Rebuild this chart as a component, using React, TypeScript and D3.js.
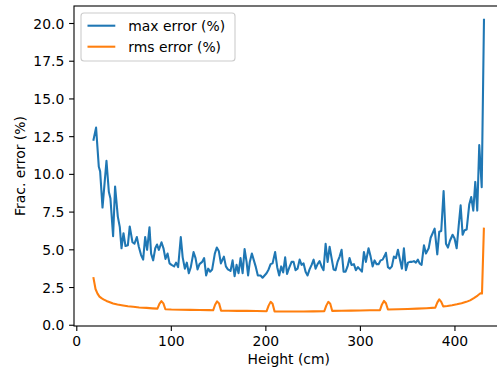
import { useEffect, useRef } from 'react'
import * as d3 from 'd3'

// max error (%)
const MAX_H = [
  17.7, 20.4, 23.3, 24.7, 27.2, 31.4, 33.9, 35.6, 38.4, 40.5, 43.4, 45.5, 47.3, 49.4, 51.5, 54.0, 56.0, 58.9, 61.0, 63.5,
  65.6, 68.0, 70.2, 72.3, 74.4, 76.9, 78.6, 80.8, 83.0, 84.9, 86.8, 89.6, 91.7, 93.8, 96.0, 98.1, 100.2, 103.0, 105.0, 107.2,
  110.0, 112.0, 114.3, 116.4, 118.5, 120.6, 123.5, 125.6, 127.7, 129.8, 132.6, 134.7, 136.8, 139.0, 141.0, 143.2, 146.0, 148.1, 150.3, 152.4,
  155.6, 157.7, 159.8, 162.6, 164.8, 166.9, 169.0, 171.1, 173.2, 175.4, 177.5, 179.6, 181.2, 183.0, 185.2, 187.3, 189.4, 191.5, 194.4, 196.5,
  198.6, 200.7, 202.9, 205.0, 207.1, 209.8, 212.0, 214.1, 216.2, 218.3, 220.4, 222.4, 224.3, 227.2, 229.3, 231.4, 233.5, 235.7, 237.8, 239.9,
  242.0, 244.1, 246.2, 248.4, 250.5, 252.6, 254.7, 256.8, 258.9, 261.0, 263.2, 265.3, 267.4, 269.5, 271.6, 273.7, 275.8, 278.0, 280.1, 282.2,
  284.3, 286.4, 288.5, 290.6, 293.1, 295.2, 297.4, 299.5, 301.6, 303.7, 305.8, 308.6, 310.8, 312.9, 315.0, 317.1, 319.2, 321.4, 323.5, 325.6,
  327.0, 329.1, 331.2, 333.3, 335.4, 337.6, 339.7, 341.8, 343.9, 346.0, 348.1, 350.3, 352.4, 354.5, 356.6, 358.7, 360.8, 362.6, 364.7, 367.2,
  369.3, 372.2, 374.3, 376.4, 378.5, 381.3, 383.4, 385.5, 388.0, 390.5, 392.6, 394.7, 397.5, 399.6, 401.8, 403.9, 406.0, 408.1, 410.2, 412.4,
  415.1, 417.2, 419.4, 421.5, 423.6, 425.7, 428.3, 430.7,
]
const MAX_ERR = [
  12.3, 13.1, 10.5, 10.2, 7.8, 10.9, 8.85, 8.4, 5.9, 9.2, 7.2, 6.5, 5.1, 6.1, 5.25, 5.3, 6.55, 5.5, 5.4, 5.85,
  5.2, 4.65, 4.35, 5.85, 5.0, 6.5, 4.75, 4.3, 5.1, 5.35, 5.0, 5.5, 5.1, 4.4, 4.75, 4.1, 4.0, 3.9, 4.15, 3.85,
  5.85, 4.5, 3.75, 4.15, 3.45, 3.85, 4.85, 4.45, 3.7, 4.05, 4.2, 4.45, 3.3, 3.75, 3.55, 3.7, 4.75, 5.15, 4.9, 4.1,
  4.55, 3.9, 3.7, 3.6, 4.3, 3.25, 4.0, 3.45, 4.45, 3.45, 5.05, 4.2, 3.3, 4.2, 4.75, 4.3, 3.85, 3.3, 3.3, 3.15,
  3.3, 3.45, 3.7, 4.05, 4.1, 4.85, 3.85, 3.3, 3.9, 3.5, 4.5, 3.4, 3.75, 4.2, 4.2, 3.65, 3.75, 4.35, 4.0, 4.1,
  3.55, 3.3, 3.7, 4.0, 4.35, 3.75, 4.05, 4.25, 3.9, 3.65, 5.4, 4.2, 5.2, 4.45, 3.7, 3.65, 4.2, 4.55, 5.0, 3.55,
  3.55, 3.9, 4.45, 4.0, 4.05, 3.65, 3.85, 3.7, 3.55, 4.85, 4.2, 5.1, 4.55, 3.9, 4.3, 4.05, 4.05, 4.3, 4.35, 4.6,
  4.8, 3.85, 3.75, 3.9, 4.55, 4.45, 5.0, 4.35, 3.75, 5.1, 3.65, 4.15, 4.2, 4.2, 4.25, 4.15, 4.35, 4.1, 4.0, 5.3,
  4.75, 5.1, 5.8, 6.1, 6.4, 4.7, 6.2, 6.25, 8.9, 5.4, 5.15, 5.6, 6.0, 5.75, 5.1, 6.55, 7.95, 6.0, 6.3, 6.35,
  8.0, 8.5, 7.6, 9.5, 7.6, 11.95, 9.15, 20.25,
]

// rms error (%)
const RMS_H = [
  17.7, 19.8, 21.9, 24.0, 26.1, 28.2, 31.4, 35.0, 38.4, 43.0, 49.0, 54.0, 59.6, 66.0, 73.8, 80.0, 85.3, 87.4, 89.5, 91.6,
  93.7, 100, 110, 120, 130, 140, 144.2, 146.3, 148.4, 150.5, 152.6, 160, 170, 180, 190, 200.8, 202.9, 205.0, 207.1, 209.2,
  211.3, 220, 230, 240, 250, 261.8, 263.9, 266.0, 268.1, 270.2, 280, 290, 300, 310, 320.7, 322.8, 324.9, 327.0, 329.1, 340,
  350, 360, 370, 379.2, 381.3, 383.4, 385.5, 387.6, 392, 397, 402, 407, 412, 416, 420, 424, 427, 428.6, 430.6,
]
const RMS_ERR = [
  3.12, 2.4, 2.1, 1.9, 1.8, 1.72, 1.61, 1.52, 1.44, 1.37, 1.31, 1.26, 1.22, 1.18, 1.15, 1.12, 1.1, 1.42, 1.6, 1.45,
  1.06, 1.04, 1.03, 1.02, 1.01, 1.0, 0.99, 1.36, 1.58, 1.45, 0.97, 0.96, 0.95, 0.95, 0.94, 0.93, 1.3, 1.55, 1.42, 0.92,
  0.91, 0.91, 0.91, 0.91, 0.92, 0.93, 1.3, 1.55, 1.42, 0.95, 0.96, 0.97, 0.98, 0.99, 1.0, 1.38, 1.61, 1.46, 1.04, 1.06,
  1.08, 1.1, 1.13, 1.17, 1.5, 1.72, 1.55, 1.25, 1.28, 1.33, 1.39, 1.46, 1.55, 1.65, 1.8, 1.97, 2.12, 2.1, 6.4,
]

const X_TICKS = [0, 100, 200, 300, 400]
const Y_TICKS = [0, 2.5, 5, 7.5, 10, 12.5, 15, 17.5, 20]
const SERIES = [
  { label: 'max error (%)', color: '#1f77b4', hs: MAX_H, vs: MAX_ERR },
  { label: 'rms error (%)', color: '#ff7f0e', hs: RMS_H, vs: RMS_ERR },
]

const FONT = 'DejaVu Sans, sans-serif'

export default function App() {
  const svgRef = useRef<SVGSVGElement>(null)

  useEffect(() => {
    const svgEl = svgRef.current
    if (!svgEl) return
    const svg = d3.select(svgEl)
    svg.selectAll('*').remove()

    const left = 74, right = 503.5, top = 6, bottom = 326
    const x = d3.scaleLinear().domain([-2.95, 451.35]).range([left, right])
    const y = d3.scaleLinear().domain([-0.05, 21.16]).range([bottom, top])

    // series
    SERIES.forEach(s => {
      const pts = s.hs.map((h, i) => [h, s.vs[i]] as [number, number])
      svg.append('path')
        .attr('d', d3.line<[number, number]>().x(d => x(d[0])).y(d => y(d[1]))(pts))
        .attr('fill', 'none').attr('stroke', s.color).attr('stroke-width', 2.08)
        .attr('stroke-linejoin', 'round').attr('stroke-linecap', 'square')
    })

    // spines
    svg.append('rect')
      .attr('x', left).attr('y', top).attr('width', right - left).attr('height', bottom - top)
      .attr('fill', 'none').attr('stroke', '#000').attr('stroke-width', 1.1)

    // x ticks
    X_TICKS.forEach(t => {
      svg.append('line').attr('x1', x(t)).attr('x2', x(t)).attr('y1', bottom).attr('y2', bottom + 4.9)
        .attr('stroke', '#000').attr('stroke-width', 1.1)
      svg.append('text').attr('x', x(t)).attr('y', bottom + 19.8)
        .attr('text-anchor', 'middle').attr('font-family', FONT).attr('font-size', 13.9).attr('fill', '#000')
        .text(String(t))
    })

    // y ticks
    Y_TICKS.forEach(t => {
      svg.append('line').attr('x1', left - 4.9).attr('x2', left).attr('y1', y(t)).attr('y2', y(t))
        .attr('stroke', '#000').attr('stroke-width', 1.1)
      svg.append('text').attr('x', left - 9.7).attr('y', y(t) + 5)
        .attr('text-anchor', 'end').attr('font-family', FONT).attr('font-size', 13.9).attr('fill', '#000')
        .text(d3.format('.1f')(t))
    })

    // axis labels
    svg.append('text').attr('x', (left + right) / 2).attr('y', 364)
      .attr('text-anchor', 'middle').attr('font-family', FONT).attr('font-size', 13.9).attr('fill', '#000')
      .text('Height (cm)')
    svg.append('text').attr('transform', `translate(24.5,${(top + bottom) / 2}) rotate(-90)`)
      .attr('text-anchor', 'middle').attr('font-family', FONT).attr('font-size', 13.9).attr('fill', '#000')
      .text('Frac. error (%)')

    // legend
    const lg = svg.append('g')
    lg.append('rect').attr('x', 81).attr('y', 13).attr('width', 154).attr('height', 48).attr('rx', 3)
      .attr('fill', '#fff').attr('fill-opacity', 0.8).attr('stroke', '#cccccc').attr('stroke-width', 1.1)
    SERIES.forEach((s, i) => {
      const ry = 25.7 + i * 21
      lg.append('line').attr('x1', 87.5).attr('x2', 115.3).attr('y1', ry).attr('y2', ry)
        .attr('stroke', s.color).attr('stroke-width', 2.08)
      lg.append('text').attr('x', 128.3).attr('y', ry + 5)
        .attr('font-family', FONT).attr('font-size', 13.9).attr('fill', '#000')
        .text(s.label)
    })
  }, [])

  return (
    <div style={{ position: 'fixed', left: 0, top: 0 }}>
      <svg ref={svgRef} width={497} height={373} style={{ display: 'block', background: '#fff' }} />
    </div>
  )
}
